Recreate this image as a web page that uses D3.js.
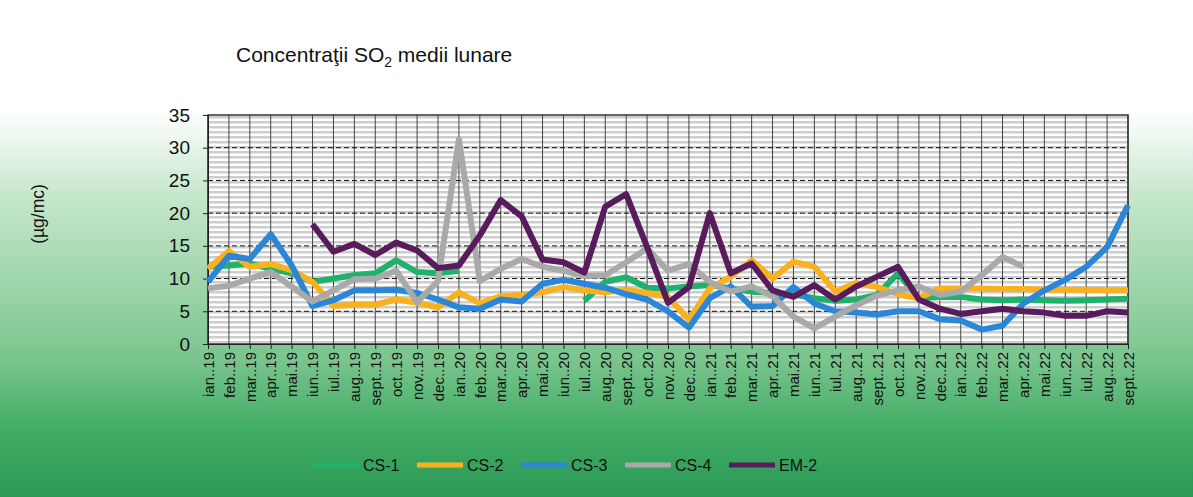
<!DOCTYPE html>
<html>
<head>
<meta charset="utf-8">
<script src="https://cdn.jsdelivr.net/npm/d3@7"></script>
<style>
  body { margin: 0; }
  text { font-family: "Liberation Sans", Arial, sans-serif; fill: #111; }
</style>
</head>
<body>
<div id="vis"></div>
<script>
var width = 1193,
    height = 497;

// luni (axa x)
var months = ["ian..19","feb..19","mar..19","apr..19","mai.19","iun..19","iul..19","aug..19","sept..19","oct..19","nov..19","dec..19",
  "ian..20","feb..20","mar..20","apr..20","mai.20","iun..20","iul..20","aug..20","sept..20","oct..20","nov..20","dec..20",
  "ian..21","feb..21","mar..21","apr..21","mai.21","iun..21","iul..21","aug..21","sept..21","oct..21","nov..21","dec..21",
  "ian..22","feb..22","mar..22","apr..22","mai.22","iun..22","iul..22","aug..22","sept..22"];

var yTicks = [0, 5, 10, 15, 20, 25, 30, 35];

var cs1 = [11.8, 12.0, 12.3, 11.5, 10.8, 9.5, 10.0, 10.5, 10.8, 12.8, 11.0, 10.8,
  11.2, null, null, null, null, null, 6.6, 9.5, 10.2, 8.6, 8.5, 8.8,
  9.0, 8.5, 8.0, 7.8, 7.6, 7.0, 6.6, 6.8, 7.5, 10.8, 7.0, 7.2,
  7.2, 6.8, 6.7, 6.8, 6.7, 6.6, 6.7, 6.8, 6.9];
var cs2 = [11.5, 14.2, 11.8, 12.2, 11.3, 9.5, 5.8, 6.0, 6.0, 6.8, 6.3, 5.6,
  7.9, 6.2, 7.3, 7.5, 7.9, 8.7, 8.2, 7.9, 8.3, 7.8, 7.2, 3.7,
  8.5, 10.3, 12.8, 10.0, 12.6, 11.8, 8.0, 9.3, 8.7, 7.6, 7.0, 8.5,
  8.5, 8.5, 8.4, 8.4, 8.3, 8.3, 8.3, 8.2, 8.2];
var cs3 = [9.5, 13.5, 13.0, 16.8, 12.0, 5.8, 6.7, 8.2, 8.2, 8.3, 7.8, 6.8,
  5.6, 5.4, 6.8, 6.5, 9.2, 9.8, 9.2, 8.6, 7.6, 6.8, 5.0, 2.5,
  7.0, 8.8, 5.7, 5.8, 8.7, 6.2, 5.0, 4.8, 4.5, 5.0, 5.0, 3.8,
  3.6, 2.2, 2.8, 6.2, 8.2, 9.8, 11.8, 14.8, 21.2];
var cs4 = [8.5, 8.9, 10.0, 11.0, 8.8, 6.5, 8.2, 9.9, 10.0, 11.2, 6.4, 9.6,
  31.3, 9.6, 11.5, 13.0, 11.8, 11.2, 10.4, 10.5, 12.5, 14.6, 11.2, 12.2,
  9.5, 8.0, 8.8, 7.3, 4.2, 2.4, 4.2, 5.9, 7.4, 8.2, 8.8, 7.5,
  8.0, 10.5, 13.3, 11.8, null, null, null, null, null];
var em2 = [null, null, null, null, null, 18.3, 14.1, 15.3, 13.6, 15.5, 14.3, 11.6,
  12.0, 16.6, 22.0, 19.5, 12.9, 12.5, 10.9, 21.0, 22.9, 14.8, 6.3, 8.7,
  20.0, 10.8, 12.3, 8.2, 7.2, 9.0, 6.8, 8.8, 10.3, 11.8, 6.8, 5.4,
  4.6, 5.0, 5.4, 5.0, 4.8, 4.3, 4.3, 5.0, 4.8];

var seriesNames = ["CS-1", "CS-2", "CS-3", "CS-4", "EM-2"];
var seriesColors = ["#20b26c", "#f9b11e", "#2a87d8", "#a9a9a9", "#581c5c"];
var seriesValues = [cs1, cs2, cs3, cs4, em2];

var margin = {left: 208, right: 1128, top: 115, bottom: 344};

var svg = d3.select('#vis').append('svg')
    .attr("width", width)
    .attr("height", height);

var defs = svg.append("defs");

// fundal: alb sus, verde jos
var bg = defs.append("linearGradient")
    .attr("id", "bg")
    .attr("x1", 0).attr("y1", 0).attr("x2", 0).attr("y2", 1);
bg.append("stop").attr("offset", "0").attr("stop-color", "#ffffff");
bg.append("stop").attr("offset", "0.22").attr("stop-color", "#ffffff");
bg.append("stop").attr("offset", "0.4").attr("stop-color", "#c4e6ca");
bg.append("stop").attr("offset", "0.6").attr("stop-color", "#98d2a5");
bg.append("stop").attr("offset", "0.72").attr("stop-color", "#7bc58e");
bg.append("stop").attr("offset", "0.86").attr("stop-color", "#43ad67");
bg.append("stop").attr("offset", "1").attr("stop-color", "#2a9a55");

var stripes = defs.append("pattern")
    .attr("id", "stripes")
    .attr("patternUnits", "userSpaceOnUse")
    .attr("x", 0).attr("y", margin.top + 1)
    .attr("width", 10).attr("height", 5);
stripes.append("rect").attr("width", 10).attr("height", 5).attr("fill", "#ffffff");
stripes.append("rect").attr("width", 10).attr("height", 2.5).attr("fill", "#cdcdcd");

svg.append("rect")
    .attr("width", width)
    .attr("height", height)
    .attr("fill", "url(#bg)");

var x = d3.scalePoint()
    .domain(months)
    .range([margin.left, margin.right]);

var y = d3.scaleLinear()
    .domain([0, 35])
    .range([margin.bottom, margin.top]);

// plot area
svg.append("rect")
    .attr("x", margin.left)
    .attr("y", margin.top)
    .attr("width", margin.right - margin.left)
    .attr("height", margin.bottom - margin.top)
    .attr("fill", "url(#stripes)");

// vertical grid
svg.append("g")
    .selectAll("line")
    .data(months)
    .enter()
    .append("line")
    .attr("x1", function(d) { return x(d); })
    .attr("x2", function(d) { return x(d); })
    .attr("y1", margin.top)
    .attr("y2", margin.bottom)
    .attr("stroke", "#444")
    .attr("stroke-width", 1);

// horizontal dashed grid
svg.append("g")
    .selectAll("line")
    .data(yTicks.slice(1, -1))
    .enter()
    .append("line")
    .attr("x1", margin.left)
    .attr("x2", margin.right)
    .attr("y1", function(d) { return y(d); })
    .attr("y2", function(d) { return y(d); })
    .attr("stroke", "#111")
    .attr("stroke-width", 1)
    .attr("stroke-dasharray", "5,3");

svg.append("rect")
    .attr("x", margin.left)
    .attr("y", margin.top)
    .attr("width", margin.right - margin.left)
    .attr("height", margin.bottom - margin.top)
    .attr("fill", "none")
    .attr("stroke", "#333")
    .attr("stroke-width", 1.5);

// axes
var yAxis = d3.axisLeft(y)
    .tickValues(yTicks)
    .tickSize(5)
    .tickPadding(13);

var yG = svg.append("g")
    .attr("transform", "translate(" + margin.left + ",0)")
    .call(yAxis);
yG.select(".domain").attr("stroke", "#222");
yG.selectAll("line").attr("stroke", "#222");
yG.selectAll("text")
    .style("font-size", "19px")
    .attr("fill", "#111");

var xAxis = d3.axisBottom(x)
    .tickSize(5)
    .tickPadding(4);

var xG = svg.append("g")
    .attr("transform", "translate(0," + margin.bottom + ")")
    .call(xAxis);
xG.select(".domain").attr("stroke", "#222");
xG.selectAll("line").attr("stroke", "#222");
xG.selectAll("text")
    .style("font-size", "15px")
    .attr("fill", "#111")
    .attr("transform", "rotate(-90)")
    .attr("x", -8)
    .attr("y", 0)
    .attr("dy", "0.35em")
    .style("text-anchor", "end");

// lines
var line = d3.line()
    .defined(function(d) { return d != null; })
    .x(function(d, i) { return x(months[i]); })
    .y(function(d) { return y(d); });

svg.append("g")
    .selectAll("path")
    .data(seriesValues)
    .enter()
    .append("path")
    .attr("d", line)
    .attr("fill", "none")
    .attr("stroke", function(d, i) { return seriesColors[i]; })
    .attr("stroke-width", 6)
    .attr("stroke-linejoin", "round")
    .attr("stroke-linecap", "butt");

// title
var title = svg.append("text")
    .attr("x", 236)
    .attr("y", 62)
    .style("font-size", "21px");
title.append("tspan").text("Concentraţii SO");
title.append("tspan").attr("dy", 5).style("font-size", "14px").text("2");
title.append("tspan").attr("dy", -5).text(" medii lunare");

svg.append("text")
    .attr("transform", "translate(44,214) rotate(-90)")
    .style("font-size", "17.5px")
    .style("text-anchor", "middle")
    .text("(µg/mc)");

// legend
var legend = svg.append("g")
    .selectAll("g")
    .data(seriesNames)
    .enter()
    .append("g")
    .attr("transform", function(d, i) { return "translate(" + (313 + i * 104) + ",465)"; });

legend.append("line")
    .attr("x1", 0)
    .attr("x2", 46)
    .attr("stroke", function(d, i) { return seriesColors[i]; })
    .attr("stroke-width", 5);

legend.append("text")
    .attr("x", 50)
    .attr("dy", "0.35em")
    .style("font-size", "16px")
    .text(function(d) { return d; });
</script>
</body>
</html>
